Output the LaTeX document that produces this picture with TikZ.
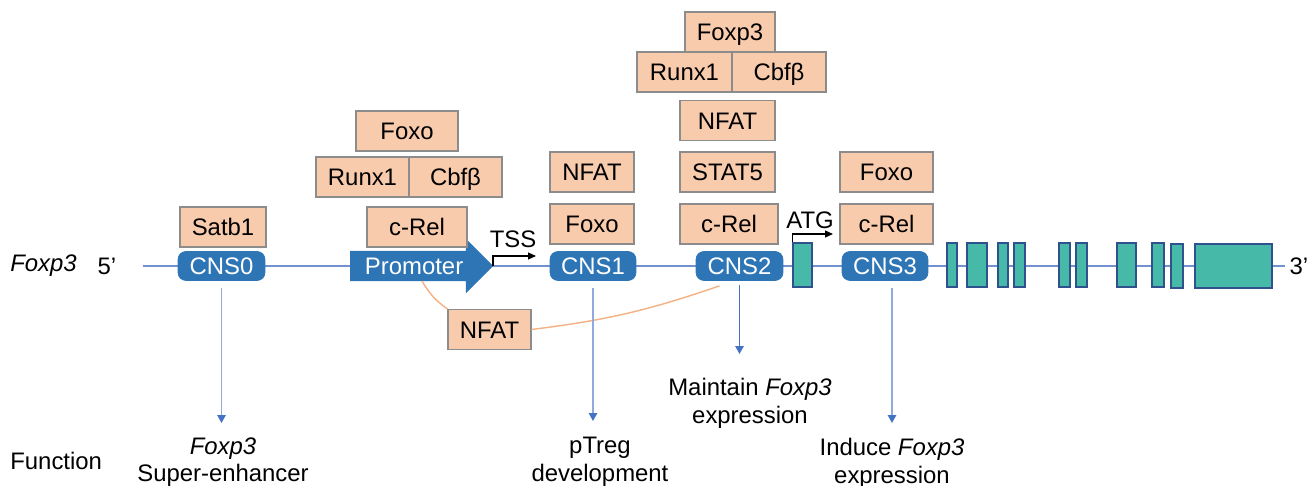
\documentclass[tikz,border=0pt]{standalone}
\usepackage{fontspec}
\setmainfont{Liberation Sans}
\usetikzlibrary{arrows.meta,shapes.arrows}

\definecolor{tfpeach}{HTML}{F8CBAD}
\definecolor{tfline}{HTML}{8C8C8C}
\definecolor{cnsblue}{HTML}{2E75B6}
\definecolor{exonfill}{HTML}{47B9A9}
\definecolor{exonline}{HTML}{2F528F}
\definecolor{dnaline}{HTML}{7391CF}
\definecolor{fnblue}{HTML}{4472C4}
\definecolor{fnlight}{HTML}{8FAADC}
\definecolor{linkorange}{HTML}{F4B183}

\tikzset{
  txt/.style={font=\fontsize{13.6}{15.9}\selectfont, inner sep=0pt},
  tf/.style={txt, rectangle, draw=tfline, line width=0.6pt, fill=tfpeach,
    minimum height=0.8cm, text height=0.344cm, text depth=0pt},
  cns/.style={txt, rectangle, rounded corners=0.16cm, fill=cnsblue, draw=cnsblue,
    text=white, minimum height=0.58cm, text height=0.344cm, text depth=0pt},
  promoter/.style={txt, single arrow, single arrow head extend=0.23cm,
    single arrow head indent=0pt, fill=cnsblue, draw=cnsblue, text=white,
    minimum height=2.84cm, inner ysep=0.118cm, text height=0.344cm, text depth=0pt},
  exon/.style={rectangle, draw=exonline, fill=exonfill, line width=0.9pt,
    minimum height=0.88cm, inner sep=0pt},
  fnlabel/.style={txt, align=center, anchor=north},
  fnarrow/.style={draw=fnlight, line width=0.8pt,
    -{Triangle[length=0.16cm,width=0.17cm,color=fnblue]}, shorten <=0.15cm},
  startarrow/.style={black, line width=0.6pt, -{Triangle[length=0.16cm,width=0.14cm]}}
}

\begin{document}
\begin{tikzpicture}[x=0.02cm, y=-0.02cm]
\useasboundingbox (0,0) rectangle (1316,486);

\coordinate (dna5) at (143,266);
\coordinate (dna3) at (1285,266);
\draw[dnaline, line width=0.8pt] (dna5) -- (dna3);

\node[txt, anchor=west] (gene) at (10,266) {\textit{Foxp3}};
\node[txt] (end5) at (107,266) {5’};
\node[txt] (end3) at (1299,266) {3’};

% regulatory regions
\node[cns, minimum width=1.74cm] (cns0) at (221.5,266) {CNS0};
\node[promoter, anchor=tip] (prom) at (493,266) {Promoter};
\node[cns, minimum width=1.72cm] (cns1) at (593,266) {CNS1};
\node[cns, minimum width=1.74cm] (cns2) at (739.5,266) {CNS2};
\node[cns, minimum width=1.72cm] (cns3) at (885,266) {CNS3};

% exons
\node[exon, minimum width=0.38cm] (atg) at (802.5,265) {};
\node[exon, minimum width=0.20cm] (e1) at (952,265) {};
\node[exon, minimum width=0.40cm] (e2) at (977,265) {};
\node[exon, minimum width=0.20cm] (e3) at (1003,265) {};
\node[exon, minimum width=0.22cm] (e4) at (1019.5,265) {};
\node[exon, minimum width=0.22cm] (e5) at (1064.5,265) {};
\node[exon, minimum width=0.22cm] (e6) at (1081.5,265) {};
\node[exon, minimum width=0.38cm] (e7) at (1126.5,265) {};
\node[exon, minimum width=0.24cm] (e8) at (1158,265) {};
\node[exon, minimum width=0.24cm] (e9) at (1177,266) {};
\node[exon, minimum width=1.54cm] (e10) at (1233.5,266) {};

% start sites
\node[txt] (tss) at (513,239) {TSS};
\node[txt] (atgtxt) at (810,220) {ATG};
\coordinate (tssend) at (536,256);
\coordinate (atgend) at (833,234);
\draw[startarrow] (prom.tip) |- (tssend);
\draw[startarrow] (atg.north west) |- (atgend);

% binding factors
\node[tf, minimum width=1.72cm] (satb) at (223,227) {Satb1};

\node[tf, minimum width=2.00cm] (prcrel) at (417,227) {c-Rel};
\node[tf, minimum width=1.86cm] (prrunx) at (362.5,177) {Runx1};
\node[tf, minimum width=1.86cm] (prcbf) at (455.5,177) {Cbfβ};
\node[tf, minimum width=2.04cm] (prfoxo) at (407,131) {Foxo};

\node[tf, minimum width=1.68cm] (c1foxo) at (592,224) {Foxo};
\node[tf, minimum width=1.68cm] (c1nfat) at (592,172) {NFAT};

\node[tf, minimum width=1.96cm] (c2crel) at (729,224) {c-Rel};
\node[tf, minimum width=1.90cm] (c2stat) at (727.5,172) {STAT5};
\node[tf, minimum width=1.90cm] (c2nfat) at (727.5,120.5) {NFAT};
\node[tf, minimum width=1.90cm] (c2runx) at (684.5,72) {Runx1};
\node[tf, minimum width=1.88cm] (c2cbf) at (779,72) {Cbfβ};
\node[tf, minimum width=1.80cm] (c2foxp) at (730,32) {Foxp3};

\node[tf, minimum width=1.86cm] (c3crel) at (886.5,224) {c-Rel};
\node[tf, minimum width=1.86cm] (c3foxo) at (886.5,172) {Foxo};

\node[tf, minimum width=1.66cm] (nfat) at (489.5,329.5) {NFAT};
\draw[linkorange, line width=0.8pt] ([shift={(8,0)}]prom.south) to[bend right=12] (nfat.north west);
\draw[linkorange, line width=0.8pt] (nfat.east) to[bend right=6] ([shift={(-20,5)}]cns2.south);

% functions
\node[txt, anchor=west] (fnhead) at (10,461) {Function};
\node[fnlabel] (fn0) at (223,437) {\textit{Foxp3}\\Super-enhancer};
\node[fnlabel] (fn1) at (600,437) {pTreg\\development};
\node[fnlabel] (fn2) at (750,378) {Maintain \textit{Foxp3}\\expression};
\node[fnlabel] (fn3) at (892,438) {Induce \textit{Foxp3}\\expression};

\draw[fnarrow, shorten >=0.28cm] (cns0.south) -- (cns0.south |- fn0.north);
\draw[fnarrow, shorten >=0.32cm] (cns1.south) -- (cns1.south |- fn1.north);
\draw[fnarrow, draw=fnblue, shorten <=0.08cm, shorten >=0.48cm] (cns2.south) -- (cns2.south |- fn2.north);
\draw[fnarrow, shorten >=0.3cm] (fn3.north |- cns3.south) -- (fn3.north);

\end{tikzpicture}
\end{document}
